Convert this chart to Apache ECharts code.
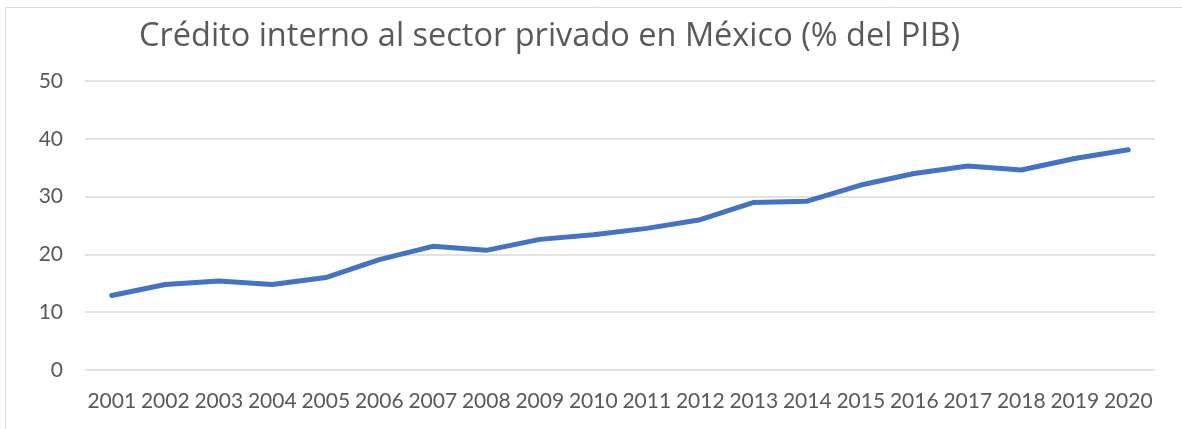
<!DOCTYPE html>
<html>
<head>
<meta charset="utf-8">
<script src="https://cdn.jsdelivr.net/npm/echarts@6/dist/echarts.min.js"></script>
<style>
html,body{margin:0;padding:0;background:#fff;}
#c{width:1182px;height:429px;}
</style>
</head>
<body>
<div id="c"></div>
<script>
const titleText = 'Crédito interno al sector privado en México (% del PIB)';
const years = ['2001','2002','2003','2004','2005','2006','2007','2008','2009','2010',
               '2011','2012','2013','2014','2015','2016','2017','2018','2019','2020'];
const credit = [12.9,14.8,15.4,14.8,16.0,19.1,21.4,20.7,22.6,23.4,
                24.5,26.0,29.0,29.2,32.0,34.0,35.3,34.6,36.6,38.1];
const yTicks = [0,10,20,30,40,50];

const font = 'Lato, "Open Sans", sans-serif';
const titleFont = '"Open Sans", Lato, sans-serif';
const chart = echarts.init(document.getElementById('c'), null, {renderer:'canvas'});
chart.setOption({
  animation:false,
  backgroundColor:'#ffffff',
  graphic:[{
    type:'rect', silent:true, z:-1,
    shape:{x:5.5,y:7.5,width:1200,height:500},
    style:{fill:'none',stroke:'#d9d9d9',lineWidth:1}
  }],
  title:{
    text:titleText, left:134, top:15,
    textStyle:{fontFamily:titleFont,fontSize:32.5,fontWeight:'normal',color:'#595959'}
  },
  grid:{left:85,right:27,top:81,bottom:59,containLabel:false},
  xAxis:{
    type:'category', data:years, boundaryGap:true,
    axisLine:{show:false}, axisTick:{show:false},
    axisLabel:{fontFamily:font,fontSize:21,color:'#595959',margin:21,interval:0}
  },
  yAxis:{
    type:'value', min:yTicks[0], max:yTicks[yTicks.length-1], interval:10,
    axisLine:{show:false}, axisTick:{show:false},
    axisLabel:{fontFamily:font,fontSize:21,color:'#595959',margin:22},
    splitLine:{lineStyle:{color:'#d9d9d9',width:1.5}}
  },
  series:[{
    type:'line', data:credit, showSymbol:false, symbol:'none',
    lineStyle:{color:'#4472c4',width:5,cap:'round',join:'round'}
  }]
});
</script>
</body>
</html>
